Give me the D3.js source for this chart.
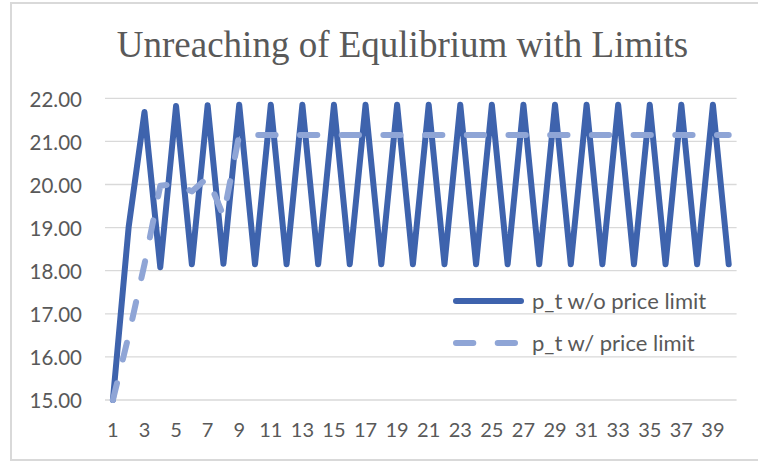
<!DOCTYPE html>
<html>
<head>
<meta charset="utf-8">
<script src="https://cdn.jsdelivr.net/npm/d3@7/dist/d3.min.js"></script>
<style>
  html, body { margin: 0; padding: 0; background: #fff; }
  svg { display: block; }
  .tick text { font-family: Lato, "Noto Sans", sans-serif; fill: #595959; }
</style>
</head>
<body>
<div id="chart"></div>
<script>
const chartTitle = "Unreaching of Equlibrium with Limits";

const periods = [
  1, 2, 3, 4, 5, 6, 7, 8, 9, 10,
  11, 12, 13, 14, 15, 16, 17, 18, 19, 20,
  21, 22, 23, 24, 25, 26, 27, 28, 29, 30,
  31, 32, 33, 34, 35, 36, 37, 38, 39, 40
];

// p_t without price limit
const noLimit = [
  15.00, 19.02, 21.68, 18.08, 21.82, 18.15, 21.84, 18.16, 21.85, 18.15,
  21.85, 18.15, 21.85, 18.15, 21.85, 18.15, 21.85, 18.15, 21.85, 18.15,
  21.85, 18.15, 21.85, 18.15, 21.85, 18.15, 21.85, 18.15, 21.85, 18.15,
  21.85, 18.15, 21.85, 18.15, 21.85, 18.15, 21.85, 18.15, 21.85, 18.15
];

// p_t with price limit
const withLimit = [
  15.00, 16.50, 18.15, 19.97, 20.02, 19.84, 20.16, 19.27, 21.15, 21.15,
  21.15, 21.15, 21.15, 21.15, 21.15, 21.15, 21.15, 21.15, 21.15, 21.15,
  21.15, 21.15, 21.15, 21.15, 21.15, 21.15, 21.15, 21.15, 21.15, 21.15,
  21.15, 21.15, 21.15, 21.15, 21.15, 21.15, 21.15, 21.15, 21.15, 21.15
];

const yTicks = [15, 16, 17, 18, 19, 20, 21, 22];
const xTickLabels = [1, 3, 5, 7, 9, 11, 13, 15, 17, 19, 21, 23, 25, 27, 29, 31, 33, 35, 37, 39];
const seriesNames = ["p_t w/o price limit", "p_t w/ price limit"];

const width = 758;
const height = 462;
const plot = { left: 105, right: 736.6, top: 98.3, bottom: 400 };

const darkBlue = "#3e63ad";
const lightBlue = "#8fa5d6";
const gridColor = "#d9d9d9";
const dash = "17.3 24.4";

const svg = d3.select("#chart")
  .append("svg")
  .attr("width", width)
  .attr("height", height);

// chart border (right edge runs off the picture)
svg.append("rect")
  .attr("x", 11)
  .attr("y", 3)
  .attr("width", 800)
  .attr("height", 457)
  .attr("fill", "#fff")
  .attr("stroke", gridColor)
  .attr("stroke-width", 2);

svg.append("text")
  .attr("x", 402.5)
  .attr("y", 57)
  .attr("text-anchor", "middle")
  .attr("font-family", "'Liberation Serif', 'Times New Roman', serif")
  .attr("font-size", 37)
  .attr("fill", "#595959")
  .text(chartTitle);

const x = d3.scaleBand()
  .domain(periods)
  .range([plot.left, plot.right]);

const y = d3.scaleLinear()
  .domain([15, 22])
  .range([plot.bottom, plot.top]);

const cx = d => x(d) + x.bandwidth() / 2;

// gridlines
svg.append("g")
  .selectAll("line")
  .data(yTicks)
  .join("line")
  .attr("x1", plot.left)
  .attr("x2", plot.right)
  .attr("y1", d => y(d))
  .attr("y2", d => y(d))
  .attr("stroke", gridColor)
  .attr("stroke-width", 1.3);

const yAxis = svg.append("g")
  .attr("transform", `translate(${plot.left},0)`)
  .call(d3.axisLeft(y).tickValues(yTicks).tickSize(0).tickPadding(23).tickFormat(d3.format(".2f")));
yAxis.select(".domain").remove();
yAxis.selectAll("text").attr("font-size", 20.5).attr("dy", "0.38em");

const xAxis = svg.append("g")
  .attr("transform", `translate(0,${plot.bottom})`)
  .call(d3.axisBottom(x).tickValues(xTickLabels).tickSize(0).tickPadding(23));
xAxis.select(".domain").remove();
xAxis.selectAll("text").attr("font-size", 20);

const line = d3.line()
  .x((d, i) => cx(periods[i]))
  .y(d => y(d));

svg.append("path")
  .datum(noLimit)
  .attr("d", line)
  .attr("fill", "none")
  .attr("stroke", darkBlue)
  .attr("stroke-width", 6)
  .attr("stroke-linejoin", "round")
  .attr("stroke-linecap", "round");

svg.append("path")
  .datum(withLimit)
  .attr("d", line)
  .attr("fill", "none")
  .attr("stroke", lightBlue)
  .attr("stroke-width", 6)
  .attr("stroke-linejoin", "round")
  .attr("stroke-linecap", "round")
  .attr("stroke-dasharray", dash);

// legend
const legend = svg.append("g");
const legendRows = [
  { name: seriesNames[0], color: darkBlue, dash: null, y: 301 },
  { name: seriesNames[1], color: lightBlue, dash: dash, y: 343 }
];

legendRows.forEach(r => {
  legend.append("line")
    .attr("x1", 456)
    .attr("x2", r.dash ? 515 : 521)
    .attr("y1", r.y)
    .attr("y2", r.y)
    .attr("stroke", r.color)
    .attr("stroke-width", 6)
    .attr("stroke-linecap", "round")
    .attr("stroke-dasharray", r.dash);

  legend.append("text")
    .attr("x", 532)
    .attr("y", r.y + 7.5)
    .attr("font-family", "Lato, 'Noto Sans', sans-serif")
    .attr("font-size", 22)
    .attr("fill", "#595959")
    .text(r.name);
});
</script>
</body>
</html>
